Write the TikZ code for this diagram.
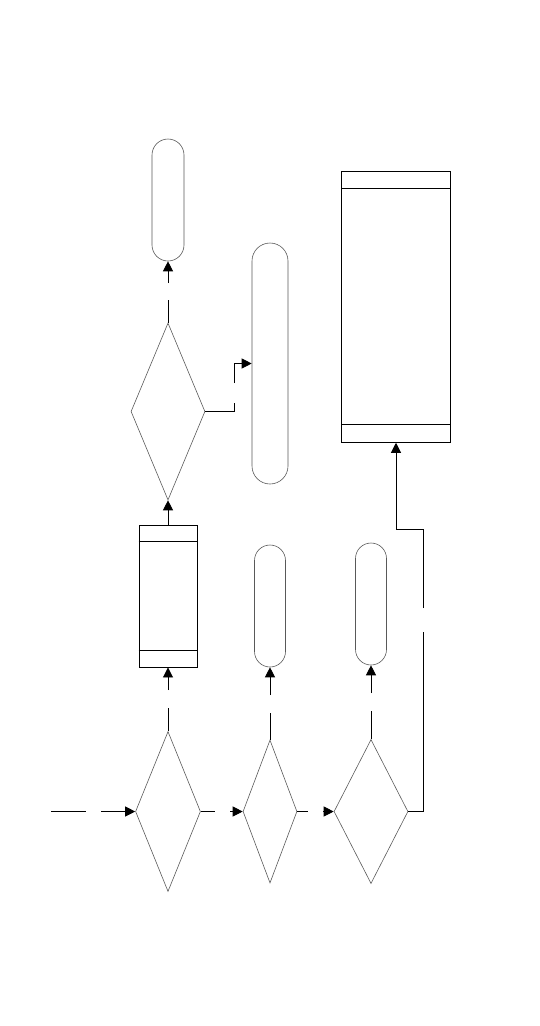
\documentclass[tikz,border=0pt]{standalone}
\usepackage{tikz}
\usetikzlibrary{shapes.geometric,arrows.meta,positioning,calc}

\begin{document}
\begin{tikzpicture}[
    x=1pt, y=-1pt,
    term/.style={rectangle, draw=black!65, line width=0.6pt, rounded corners=15.5pt, minimum width=31pt, inner sep=0pt},
    decision/.style={diamond, draw=black!65, line width=0.6pt, inner sep=0pt},
    proc/.style={rectangle, draw, line width=0.9pt, inner sep=0pt},
    link/.style={line width=0.9pt},
    arr/.style={link, -{Triangle[length=10pt,width=10pt]}}
]
    \useasboundingbox (0,0) rectangle (540,1026);

    % Terminators
    \node[term, minimum height=122pt, minimum width=32pt, rounded corners=16pt] (t1) at (168,200) {};
    \node[term, minimum height=241pt, minimum width=36pt, rounded corners=18pt] (t2) at (270,363.5) {};
    \node[term, minimum height=122pt] (t3) at (270,606) {};
    \node[term, minimum height=122pt] (t4) at (371,604) {};

    % Decisions
    \node[decision, minimum width=74pt, minimum height=177pt] (d1) at (168,411.5) {};
    \node[decision, minimum width=65pt, minimum height=160pt] (dA) at (168,811.5) {};
    \node[decision, minimum width=54pt, minimum height=143pt] (dB) at (270,811.5) {};
    \node[decision, minimum width=74pt, minimum height=144pt] (dC) at (371,811.5) {};

    % Processes
    \node[proc, minimum width=58pt, minimum height=142pt] (p1) at (168,596) {};
    \draw[line width=0.9pt] ([yshift=-17pt]p1.north west) -- ([yshift=-17pt]p1.north east);
    \draw[line width=0.9pt] ([yshift=17pt]p1.south west) -- ([yshift=17pt]p1.south east);

    \node[proc, minimum width=108.6pt, minimum height=270.6pt] (p2) at (396,307) {};
    \draw[line width=0.9pt] ([yshift=-17.6pt]p2.north west) -- ([yshift=-17.6pt]p2.north east);
    \draw[line width=0.9pt] ([yshift=18pt]p2.south west) -- ([yshift=18pt]p2.south east);

    % Gap points
    \coordinate (s0) at (51,811.5);
    \coordinate (g0a) at (86,811.5);
    \coordinate (g0b) at (101,811.5);
    \coordinate (g1a) at (215,811.5);
    \coordinate (g1b) at (230,811.5);
    \coordinate (g2a) at (308,811.5);
    \coordinate (g2b) at (323,811.5);
    \coordinate (g3a) at (168,708);
    \coordinate (g3b) at (168,690);
    \coordinate (g4a) at (270,713);
    \coordinate (g4b) at (270,695);
    \coordinate (g5a) at (371,711);
    \coordinate (g5b) at (371,693);
    \coordinate (g6a) at (423,632);
    \coordinate (g6b) at (423,608);
    \coordinate (g6c) at (423,529.5);
    \coordinate (g7a) at (168,300);
    \coordinate (g7b) at (168,283);
    \coordinate (g8a) at (234,403);
    \coordinate (g8b) at (234,383);

    % Connectors
    \draw[link] (s0) -- (g0a);
    \draw[arr] (g0b) -- (dA.west);
    \draw[link] (dA.east) -- (g1a);
    \draw[arr] (g1b) -- (dB.west);
    \draw[link] (dB.east) -- (g2a);
    \draw[arr] (g2b) -- (dC.west);

    \draw[link] (dA.north) -- (g3a);
    \draw[arr] (g3b) -- (p1.south);
    \draw[link] (dB.north) -- (g4a);
    \draw[arr] (g4b) -- (t3.south);
    \draw[link] (dC.north) -- (g5a);
    \draw[arr] (g5b) -- (t4.south);

    \draw[link] (dC.east) -| (g6a);
    \draw[arr] (g6b) -- (g6c) -| (p2.south);

    \draw[arr] (p1.north) -- (d1.south);
    \draw[link] (d1.north) -- (g7a);
    \draw[arr] (g7b) -- (t1.south);

    \draw[link] (d1.east) -| (g8a);
    \draw[arr] (g8b) |- (t2.west);
\end{tikzpicture}
\end{document}
